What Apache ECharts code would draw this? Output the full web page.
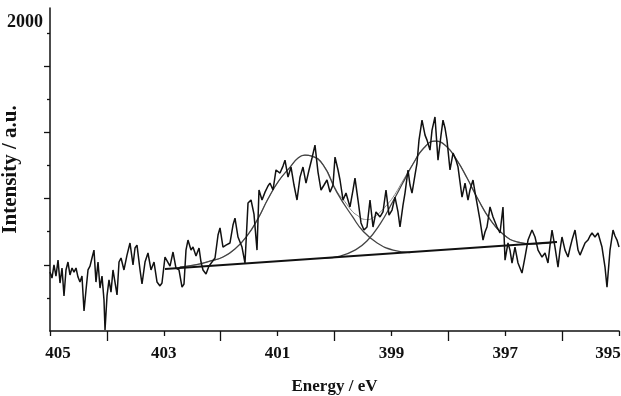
<!DOCTYPE html>
<html lang="en">
<head>
    <meta charset="UTF-8"/>
    <script src="https://cdn.jsdelivr.net/npm/echarts@6/dist/echarts.min.js"></script>
    <title>N 1s spectrum</title>
    <style>
        html,body{margin:0;padding:0;background:#fff;}
        #main{width:621px;height:396px;}
    </style>
</head>
<body>
<div id="main"></div>
<script type="text/javascript">
    // measured spectrum, binding energy (eV) and intensity (a.u.)
    var energy = [
        405.000,404.965,404.930,404.895,404.859,404.824,404.789,404.754,404.719,404.684,404.649,404.613,404.578,404.543,404.508,404.473,404.438,404.402,404.367,404.332,404.297,404.262,404.227,404.192,404.156,404.121,404.086,404.051,404.033,
        403.998,403.963,403.928,403.893,403.858,403.822,403.787,403.752,403.700,403.647,403.594,403.541,403.506,403.471,403.418,403.383,403.330,403.278,403.225,403.172,403.119,403.067,403.032,
        402.979,402.944,402.891,402.838,402.786,402.733,402.680,402.645,402.610,402.575,402.522,402.487,402.434,402.381,402.346,402.311,402.258,402.206,402.153,402.100,
        402.047,402.012,401.960,401.907,401.837,401.784,401.749,401.696,401.626,401.573,401.520,401.467,401.415,401.362,
        401.327,401.274,401.221,401.169,401.134,401.081,401.028,400.958,400.905,400.870,400.817,400.764,400.712,400.659,400.606,
        400.554,400.501,400.448,400.395,400.343,400.290,400.237,400.184,400.132,400.079,400.026,399.991,399.938,399.903,399.850,
        399.798,399.728,399.675,399.640,399.587,399.534,399.482,399.429,399.376,399.323,399.271,399.200,399.148,399.095,399.042,398.989,398.937,398.884,
        398.849,398.796,398.761,398.708,398.673,398.638,398.585,398.550,398.515,398.462,398.409,398.374,398.322,398.286,398.234,398.181,398.128,398.093,398.058,398.023,
        397.970,397.917,397.865,397.829,397.794,397.759,397.706,397.654,397.619,397.566,397.531,397.496,397.443,397.390,397.355,397.320,397.267,397.214,397.179,397.144,397.091,
        397.039,397.003,396.951,396.916,396.880,396.828,396.775,396.740,396.705,396.652,396.599,396.529,396.476,396.423,396.353,396.300,396.248,
        396.212,396.177,396.125,396.072,396.037,396.002,395.949,395.896,395.861,395.826,395.773,395.720,395.685,395.650,395.597,395.545,395.510,395.474,395.422,395.369,395.334,
        395.299,395.246,395.211,395.158,395.105,395.070,395.035,395.000
    ];
    var intensity = [
        365,328,409,340,439,297,390,217,378,427,347,390,365,390,334,303,340,124,254,378,402,452,501,303,427,266,340,192,6,
        217,316,241,378,303,223,427,452,378,470,545,409,514,532,378,291,427,483,378,427,303,279,297,
        458,470,402,489,390,378,272,291,501,563,501,520,464,514,427,378,353,402,427,452,
        594,638,520,532,545,656,699,582,520,421,792,811,724,501,
        873,811,860,898,916,873,997,978,1021,1058,953,1015,904,811,953,
        1015,916,997,1071,1151,984,873,904,935,860,904,1077,997,935,811,
        854,768,873,947,811,669,625,644,811,644,737,706,737,873,718,749,829,737,
        644,780,854,997,904,854,966,1040,1182,1306,1213,1182,1120,1244,1325,1058,1213,1306,1257,1182,
        997,1102,1058,1015,922,829,916,811,873,935,860,792,687,563,613,644,768,706,675,644,607,
        768,439,545,501,421,520,421,390,359,458,563,625,582,501,458,483,421,
        532,625,520,396,501,582,501,458,514,563,625,501,470,458,545,563,588,607,582,607,563,
        520,396,272,501,625,588,563,520
    ];

    // fitted components (drawn on top of the background)
    var peak1E = [402.72,402.45,402.19,401.96,401.75,401.54,401.34,401.17,400.98,400.78,400.64,400.52,400.40,400.20,399.96,399.68,399.50,399.25,398.97,398.67];
    var peak1I = [396,409,433,458,508,588,699,817,929,1015,1071,1089,1083,1028,860,706,619,545,501,486];
    var peak2E = [400.17,399.90,399.64,399.43,399.20,398.97,398.80,398.62,398.43,398.23,398.04,397.85,397.67,397.48,397.27,397.04,396.78,396.48,396.09];
    var peak2I = [452,464,501,557,662,805,916,1034,1133,1176,1145,1058,947,817,693,600,551,539,553];
    var envE = [402.72,402.45,402.19,401.96,401.75,401.54,401.34,401.17,400.98,400.78,400.64,400.52,400.40,400.20,399.96,399.82,399.68,399.59,399.50,399.41,399.32,399.20,399.08,398.97,398.80,398.62,398.43,398.23,398.04,397.85,397.67,397.48,397.27,397.04,396.78,396.48,396.09];
    var envI = [396,409,433,458,508,588,699,817,929,1015,1071,1089,1083,1030,866,802,738,714,693,690,703,735,781,829,929,1036,1134,1176,1145,1058,947,818,694,601,552,540,553];
    var baseE = [402.98, 396.09];
    var baseI = [384, 551];

    // axis ticks and labels
    var xLabels = [405, 403, 401, 399, 397, 395];
    var xShortTicks = [405, 403, 401, 399, 397, 395];
    var xLongTicks = [404, 402, 400, 398, 396];
    var yTicks = [410, 820, 1230, 1640];
    var yLabels = [2000];

    function pairs(xs, ys) {
        var out = [];
        for (var i = 0; i < Math.min(xs.length, ys.length); i++) {
            out.push([xs[i], ys[i]]);
        }
        return out;
    }

    var serif = "'Liberation Serif', 'Times New Roman', serif";
    var axisColor = '#111';

    var myChart = echarts.init(document.getElementById('main'));
    var option = {
        backgroundColor: '#fff',
        animation: false,
        grid: {left: 50, right: 2, top: 8, bottom: 65, containLabel: false, outerBoundsMode: 'none'},
        xAxis: [
            {
                type: 'value', min: 395, max: 405, interval: 1, inverse: true,
                name: 'Energy / eV', nameLocation: 'middle', nameGap: 47, nameMoveOverlap: false,
                nameTextStyle: {fontFamily: serif, fontWeight: 'bold', fontSize: 17, color: axisColor},
                axisLine: {show: true, lineStyle: {color: axisColor, width: 1.5}},
                axisTick: {show: true, customValues: xShortTicks, length: 5, lineStyle: {color: axisColor, width: 1.3}},
                axisLabel: {
                    customValues: xLabels, margin: 14,
                    fontFamily: serif, fontWeight: 'bold', fontSize: 17, color: axisColor,
                    formatter: function (v) {
                        if (v === 405) return '{l|' + v + '}';
                        if (v === 395) return '{r|' + v + '}';
                        return String(v);
                    },
                    rich: {
                        l: {fontFamily: serif, fontWeight: 'bold', fontSize: 17, color: axisColor, padding: [0, 0, 0, 16]},
                        r: {fontFamily: serif, fontWeight: 'bold', fontSize: 17, color: axisColor, padding: [0, 22, 0, 0]}
                    }
                },
                splitLine: {show: false}
            },
            {
                type: 'value', min: 395, max: 405, interval: 1, inverse: true, position: 'bottom',
                axisLine: {show: false},
                axisTick: {show: true, customValues: xLongTicks, length: 10, lineStyle: {color: axisColor, width: 1.3}},
                axisLabel: {show: false},
                splitLine: {show: false}
            }
        ],
        yAxis: {
            type: 'value', min: 0, max: 2000, interval: 410,
            name: 'Intensity / a.u.', nameLocation: 'middle', nameGap: 29, nameMoveOverlap: false,
            nameTextStyle: {fontFamily: serif, fontWeight: 'bold', fontSize: 21, color: axisColor},
            axisLine: {show: true, lineStyle: {color: axisColor, width: 1.5}},
            axisTick: {show: true, customValues: yTicks, length: 6, lineStyle: {color: axisColor, width: 1.3}},
            minorTick: {show: true, splitNumber: 2, length: 3, lineStyle: {color: axisColor, width: 1.3}},
            axisLabel: {
                customValues: yLabels, margin: 7, verticalAlign: 'top', padding: [5, 0, 0, 0],
                fontFamily: serif, fontWeight: 'bold', fontSize: 18, color: axisColor,
                formatter: function (v) { return String(v); }
            },
            splitLine: {show: false},
            minorSplitLine: {show: false}
        },
        series: [
            {
                name: 'envelope', type: 'line', data: pairs(envE, envI), smooth: true,
                symbol: 'none', lineStyle: {color: '#8a8a8a', width: 1}, z: 2
            },
            {
                name: 'peak 1', type: 'line', data: pairs(peak1E, peak1I), smooth: true,
                symbol: 'none', lineStyle: {color: '#444', width: 1.3}, z: 3
            },
            {
                name: 'peak 2', type: 'line', data: pairs(peak2E, peak2I), smooth: true,
                symbol: 'none', lineStyle: {color: '#444', width: 1.3}, z: 3
            },
            {
                name: 'background', type: 'line', data: pairs(baseE, baseI),
                symbol: 'none', lineStyle: {color: '#111', width: 2}, z: 4
            },
            {
                name: 'spectrum', type: 'line', data: pairs(energy, intensity),
                symbol: 'none', lineStyle: {color: '#111', width: 1.5}, z: 5
            }
        ]
    };
    myChart.setOption(option);
</script>
</body>
</html>
